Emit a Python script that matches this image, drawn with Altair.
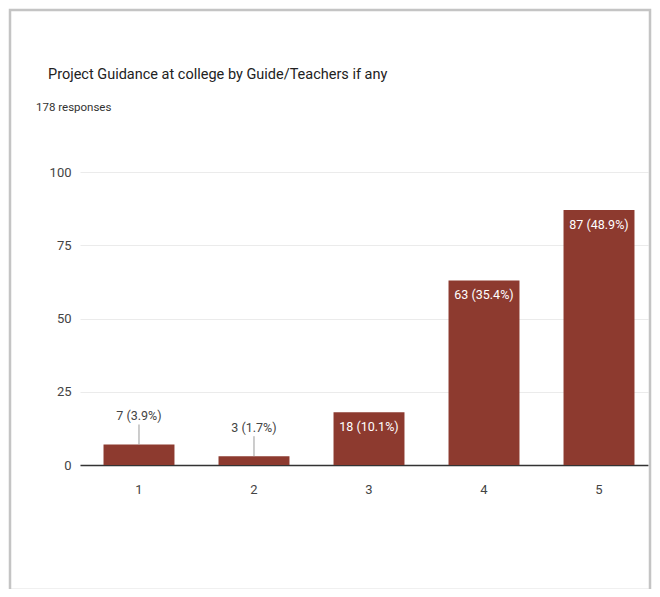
import altair as alt
import pandas as pd

categories = ["1", "2", "3", "4", "5"]
counts = [7, 3, 18, 63, 87]
percents = ["3.9%", "1.7%", "10.1%", "35.4%", "48.9%"]
title_text = "Project Guidance at college by Guide/Teachers if any"
subtitle_text = "178 responses"
y_ticks = [0, 25, 50, 75, 100]

FONT = "Roboto, Liberation Sans, sans-serif"
BAR = "#8d3a2f"

df = pd.DataFrame({"option": categories, "count": counts, "pct": percents})
df["label"] = [f"{c} ({p})" for c, p in zip(counts, percents)]

x_enc = alt.X(
    "option:N",
    sort=categories,
    scale=alt.Scale(paddingInner=0.383, paddingOuter=0.161, align=0.635),
    axis=alt.Axis(title=None, labelAngle=0, ticks=False, domain=True, grid=False,
                  domainColor="#333333", domainWidth=1.5, labelPadding=18,
                  labelFont=FONT, labelFontSize=13, labelColor="#444444"),
)
y_scale = alt.Scale(domain=[0, 100])

base = alt.Chart(df)

bars = base.mark_bar(color=BAR).encode(
    x=x_enc,
    y=alt.Y("count:Q", scale=y_scale,
            axis=alt.Axis(title=None, values=y_ticks, ticks=False, domain=False,
                          gridColor="#ebebeb", labelPadding=9, labelFont=FONT,
                          labelFontSize=13, labelColor="#444444")),
)

inside = base.transform_filter("datum.count >= 15").mark_text(
    baseline="top", dy=9, color="white", font=FONT, fontSize=12.5
).encode(x=alt.X("option:N", sort=categories), y=alt.Y("count:Q", scale=y_scale), text="label:N")

small = base.transform_filter("datum.count < 15")
leader = small.mark_rule(color="#9a9a9a", strokeWidth=1, y2Offset=-20).encode(
    x=alt.X("option:N", sort=categories),
    y=alt.Y("count:Q", scale=y_scale),
    y2="count:Q",
)
outside = small.mark_text(
    baseline="bottom", dy=-21, color="#444444", font=FONT, fontSize=12.5
).encode(x=alt.X("option:N", sort=categories), y=alt.Y("count:Q", scale=y_scale), text="label:N")

titles = alt.Chart(pd.DataFrame({"t": [title_text]})).mark_text(
    align="left", baseline="middle", font=FONT, fontSize=14.5, color="#222222"
).encode(x=alt.value(-32), y=alt.value(-97), text="t:N")
subtitle = alt.Chart(pd.DataFrame({"t": [subtitle_text]})).mark_text(
    align="left", baseline="middle", font=FONT, fontSize=11.5, color="#333333"
).encode(x=alt.value(-44), y=alt.value(-64), text="t:N")

frame = alt.Chart(pd.DataFrame({"a": [0]})).mark_rect(
    fill=None, stroke="#c4c4c4", strokeWidth=2.5
).encode(x=alt.value(-70), x2=alt.value(570), y=alt.value(-162), y2=alt.value(418))

chart = alt.layer(frame, bars, leader, outside, inside, titles, subtitle).properties(
    width=568, height=293,
    autosize=alt.AutoSizeParams(type="none"),
    padding={"left": 72, "top": 164, "right": 4, "bottom": 124},
).configure(background="white").configure_view(stroke=None)

chart.save("out.html", embed_options={"renderer": "svg", "actions": False})
